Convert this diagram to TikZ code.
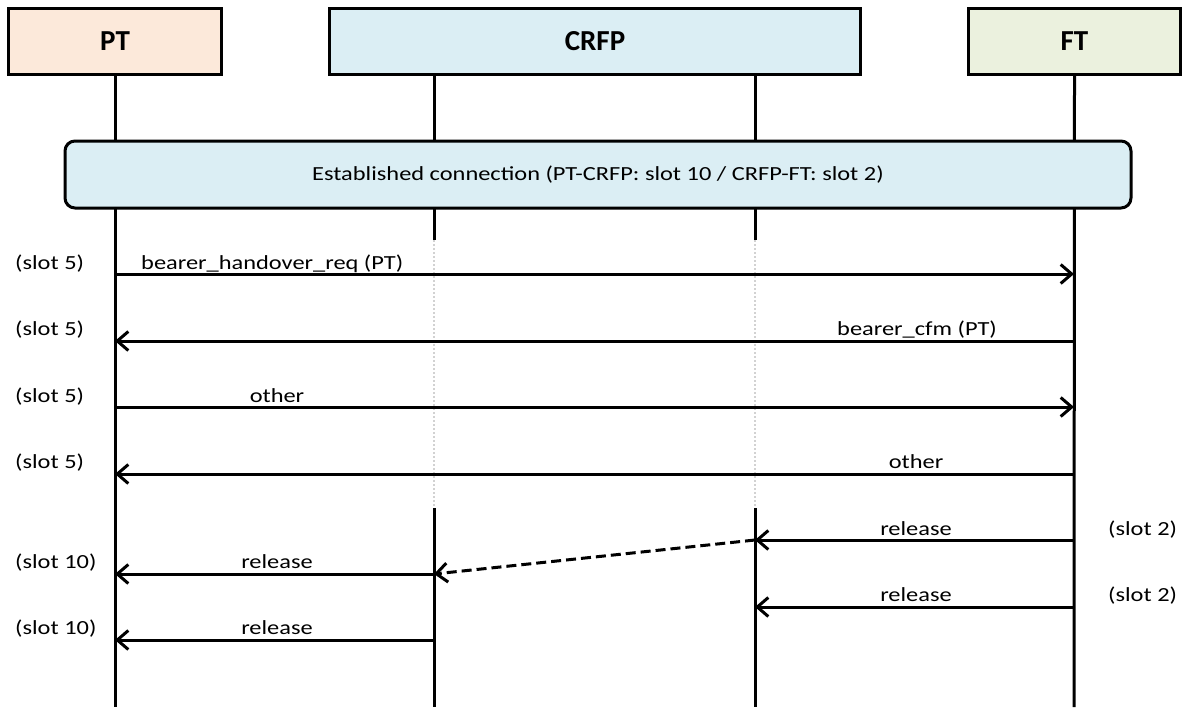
\documentclass[tikz,border=0pt]{standalone}
\usepackage{fontspec}
\setmainfont{Carlito}
\newfontfamily\widefont[FakeStretch=1.22]{Carlito}
\usetikzlibrary{arrows.meta}
\definecolor{ptfill}{HTML}{FCE9DA}
\definecolor{crfpfill}{HTML}{DBEEF4}
\definecolor{ftfill}{HTML}{EBF1DE}
\tikzset{
  hdr/.style={draw=black, line width=3pt, minimum height=66pt, font=\fontsize{29}{33}\selectfont\bfseries, inner sep=0pt},
  life/.style={line width=3pt},
  faded/.style={line width=2pt, draw=gray!35, dotted},
  msg/.style={line width=3pt, -{Straight Barb[length=11pt,width=19pt,line width=3pt]}},
  lbl/.style={font=\widefont\fontsize{20}{24}\selectfont, inner sep=0pt, anchor=base},
  slotl/.style={font=\widefont\fontsize{20}{24}\selectfont, inner sep=0pt, anchor=base west},
}
\begin{document}
\begin{tikzpicture}[x=1pt,y=-1pt]
\useasboundingbox (0,0) rectangle (1188,707);
% headers
\node[hdr, fill=ptfill, minimum width=213pt] (pt) at (115,41.5) {PT};
\node[hdr, fill=crfpfill, minimum width=531pt] (crfp) at (595,41.5) {CRFP};
\node[hdr, fill=ftfill, minimum width=212pt] (ft) at (1074.5,41.5) {FT};
% lifeline coordinates
\coordinate (ptb) at (115,707);
\coordinate (ftb) at (1074,707);
\coordinate (cla) at (434,75);
\coordinate (clb) at (434,240);
\coordinate (clc) at (434,508);
\coordinate (cld) at (434,707);
\coordinate (cra) at (755,75);
\coordinate (crb) at (755,240);
\coordinate (crc) at (755,508);
\coordinate (crd) at (755,707);
\draw[life] (pt.south) -- (ptb);
\draw[life] (ft.south) -- (ftb);
\draw[life] (cla) -- (clb);
\draw[faded] (clb) -- (clc);
\draw[life] (clc) -- (cld);
\draw[life] (cra) -- (crb);
\draw[faded] (crb) -- (crc);
\draw[life] (crc) -- (crd);
% established connection
\node[draw=black, line width=3pt, fill=crfpfill, rounded corners=10pt, minimum width=1066pt, minimum height=67pt, inner sep=0pt, font=\widefont\fontsize{20}{24}\selectfont] (est) at (598,174.5) {Established connection (PT-CRFP: slot 10 / CRFP-FT: slot 2)};
% message endpoints
\foreach \n/\y in {1/274,2/341,3/407,4/474,5/540,6/574,7/607,8/640}{
  \coordinate (p\n) at (115,\y);
  \coordinate (cl\n) at (434,\y);
  \coordinate (cr\n) at (755,\y);
  \coordinate (f\n) at (1074,\y);
}
\draw[msg] (p1) -- (f1);
\draw[msg] (f2) -- (p2);
\draw[msg] (p3) -- (f3);
\draw[msg] (f4) -- (p4);
\draw[msg] (f5) -- (cr5);
\draw[msg, dash pattern=on 10pt off 5pt] (cr5) -- (cl6);
\draw[msg] (cl6) -- (p6);
\draw[msg] (f7) -- (cr7);
\draw[msg] (cl8) -- (p8);
% labels
\node[lbl, anchor=base west] (l1) at (141,269) {bearer\_handover\_req (PT)};
\node[lbl, anchor=base east] (l2) at (997,335) {bearer\_cfm (PT)};
\node[lbl] (l3) at (277,402) {other};
\node[lbl] (l4) at (916,468) {other};
\node[lbl] (l5) at (916,535) {release};
\node[lbl] (l6) at (277,568) {release};
\node[lbl] (l7) at (916,601) {release};
\node[lbl] (l8) at (277,634) {release};
% slot labels
\node[slotl] (s1) at (15,269) {(slot 5)};
\node[slotl] (s2) at (15,335) {(slot 5)};
\node[slotl] (s3) at (15,402) {(slot 5)};
\node[slotl] (s4) at (15,468) {(slot 5)};
\node[slotl] (s5) at (1108,535) {(slot 2)};
\node[slotl] (s6) at (15,568) {(slot 10)};
\node[slotl] (s7) at (1108,601) {(slot 2)};
\node[slotl] (s8) at (15,634) {(slot 10)};
\end{tikzpicture}
\end{document}
